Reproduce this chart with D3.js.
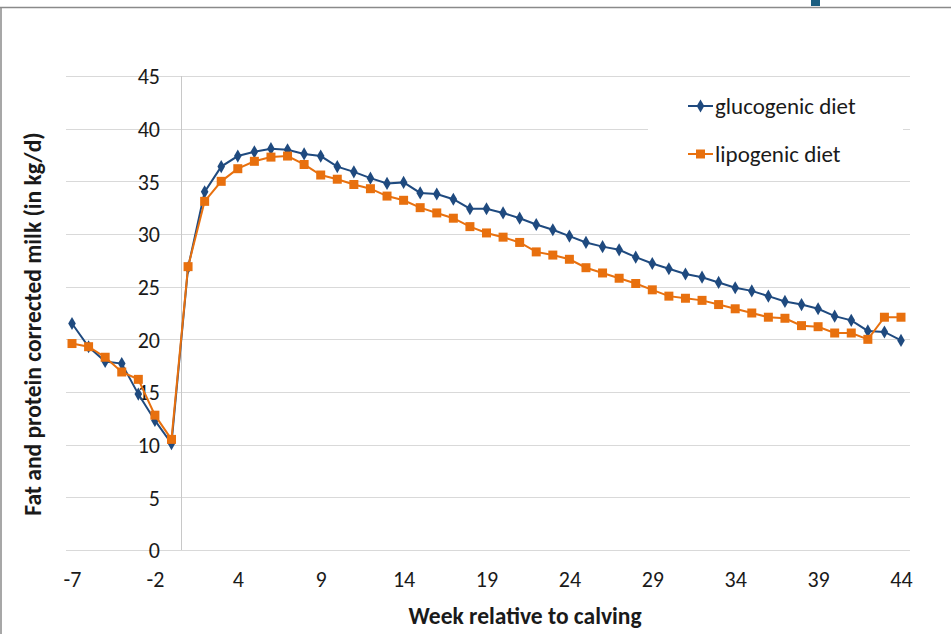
<!DOCTYPE html>
<html>
<head>
<meta charset="utf-8">
<script src="https://cdn.jsdelivr.net/npm/d3@7"></script>
<style>
  html, body { margin: 0; padding: 0; background: #fff; }
  svg { display: block; }
  text { font-family: Carlito, Lato, "Open Sans", sans-serif; fill: #1a1a1a; }
</style>
</head>
<body>
<svg id="chart" width="951" height="634"></svg>
<script>
// Weeks relative to calving (there is no week 0)
const weeks = [-7, -6, -5, -4, -3, -2, -1,
  1, 2, 3, 4, 5, 6, 7, 8, 9, 10, 11, 12, 13, 14, 15, 16, 17, 18, 19, 20,
  21, 22, 23, 24, 25, 26, 27, 28, 29, 30, 31, 32, 33, 34, 35, 36, 37, 38, 39, 40,
  41, 42, 43, 44];

// Fat and protein corrected milk, kg/d
const glucogenic = [21.5, 19.3, 17.9, 17.7, 14.8, 12.3, 10.1,
  26.8, 34.0, 36.4, 37.4, 37.8, 38.1, 38.0, 37.6, 37.4, 36.4, 35.9, 35.3, 34.8, 34.9,
  33.9, 33.8, 33.3, 32.4, 32.4, 32.0, 31.5, 30.9, 30.4, 29.8, 29.2, 28.8, 28.5, 27.8,
  27.2, 26.7, 26.2, 25.9, 25.4, 24.9, 24.6, 24.1, 23.6, 23.3, 22.9, 22.2, 21.8, 20.8,
  20.7, 19.9];

const lipogenic = [19.6, 19.3, 18.3, 16.9, 16.2, 12.8, 10.5,
  26.9, 33.1, 35.0, 36.2, 36.9, 37.3, 37.4, 36.6, 35.6, 35.2, 34.7, 34.3, 33.6, 33.2,
  32.5, 32.0, 31.5, 30.7, 30.1, 29.7, 29.2, 28.3, 28.0, 27.6, 26.8, 26.3, 25.8, 25.3,
  24.7, 24.1, 23.9, 23.7, 23.3, 22.9, 22.5, 22.1, 22.0, 21.3, 21.2, 20.6, 20.6, 20.0,
  22.1, 22.1];

const xTickLabels = [-7, -2, 4, 9, 14, 19, 24, 29, 34, 39, 44];
const yTicks = [0, 5, 10, 15, 20, 25, 30, 35, 40, 45];

const seriesNames = ["glucogenic diet", "lipogenic diet"];
const seriesColors = ["#1f4a7f", "#e8700e"];

const svg = d3.select("#chart");

// outer frame
svg.append("line").attr("x1", 0).attr("x2", 951).attr("y1", 7.5).attr("y2", 7.5)
  .attr("stroke", "#8a8a8a").attr("stroke-width", 1.5);
svg.append("line").attr("x1", 1).attr("x2", 1).attr("y1", 7.5).attr("y2", 634)
  .attr("stroke", "#8a8a8a").attr("stroke-width", 1.5);
svg.append("rect").attr("x", 811).attr("y", 0).attr("width", 9).attr("height", 6)
  .attr("fill", "#1b5e80");

const x = d3.scalePoint().domain(weeks.map(String)).range([72, 901]);
const y = d3.scaleLinear().domain([0, 45]).range([550, 76]);
const gridLeft = 66, gridRight = 910;

// horizontal gridlines
svg.append("g").selectAll("line").data(yTicks).join("line")
  .attr("x1", gridLeft).attr("x2", gridRight)
  .attr("y1", d => Math.round(y(d)) + 0.5).attr("y2", d => Math.round(y(d)) + 0.5)
  .attr("stroke", "#d9d9d9").attr("stroke-width", 1.2);

// vertical axis sits between week -1 and week 1
const axisX = Math.round((x("-1") + x("1")) / 2) + 1.5;
svg.append("line").attr("x1", axisX).attr("x2", axisX)
  .attr("y1", y(45)).attr("y2", y(0))
  .attr("stroke", "#c8c8c8").attr("stroke-width", 1);

// y tick labels
const yAxis = d3.axisLeft(y).tickValues(yTicks).tickSize(0).tickPadding(0);
const gy = svg.append("g").attr("transform", "translate(160,0)").call(yAxis);
gy.select(".domain").remove();
gy.selectAll("text").attr("font-size", 22).attr("font-family", null).attr("dy", "0.36em");

// x tick labels
const xAxis = d3.axisBottom(x).tickValues(xTickLabels.map(String)).tickSize(0).tickPadding(0);
const gx = svg.append("g").attr("transform", "translate(0,571)").call(xAxis);
gx.select(".domain").remove();
gx.selectAll("text").attr("font-size", 22).attr("font-family", null).attr("dy", "0.72em");

// axis titles
svg.append("text").attr("x", 525).attr("y", 624).attr("text-anchor", "middle")
  .attr("font-size", 23.5).attr("font-weight", "bold").text("Week relative to calving");
svg.append("text").attr("transform", "translate(41,324) rotate(-90)")
  .attr("text-anchor", "middle").attr("font-size", 23.5).attr("font-weight", "bold")
  .text("Fat and protein corrected milk (in kg/d)");

// series
const series = [glucogenic, lipogenic];
const line = d3.line().x((d, i) => x(String(weeks[i]))).y(d => y(d));
const diamond = d3.symbol().type(d3.symbolDiamond).size(50);
const square = d3.symbol().type(d3.symbolSquare).size(81);

series.forEach((vals, s) => {
  const g = svg.append("g");
  g.append("path").datum(vals).attr("d", line)
    .attr("fill", "none").attr("stroke", seriesColors[s]).attr("stroke-width", 2);
  g.selectAll("path.m").data(vals).join("path").attr("class", "m")
    .attr("transform", (d, i) => `translate(${x(String(weeks[i]))},${y(d)})`)
    .attr("d", s === 0 ? diamond : square)
    .attr("fill", seriesColors[s]);
});

// legend
const lg = svg.append("g");
lg.append("rect").attr("x", 648).attr("y", 86).attr("width", 255).attr("height", 88).attr("fill", "#fff");
seriesNames.forEach((name, s) => {
  const cy = 106 + s * 48;
  lg.append("line").attr("x1", 688).attr("x2", 713).attr("y1", cy).attr("y2", cy)
    .attr("stroke", seriesColors[s]).attr("stroke-width", 2);
  lg.append("path").attr("transform", `translate(700.5,${cy})`)
    .attr("d", s === 0 ? diamond : square).attr("fill", seriesColors[s]);
  lg.append("text").attr("x", 715).attr("y", cy).attr("dy", "0.36em")
    .attr("font-size", 23).text(name);
});
</script>
</body>
</html>
